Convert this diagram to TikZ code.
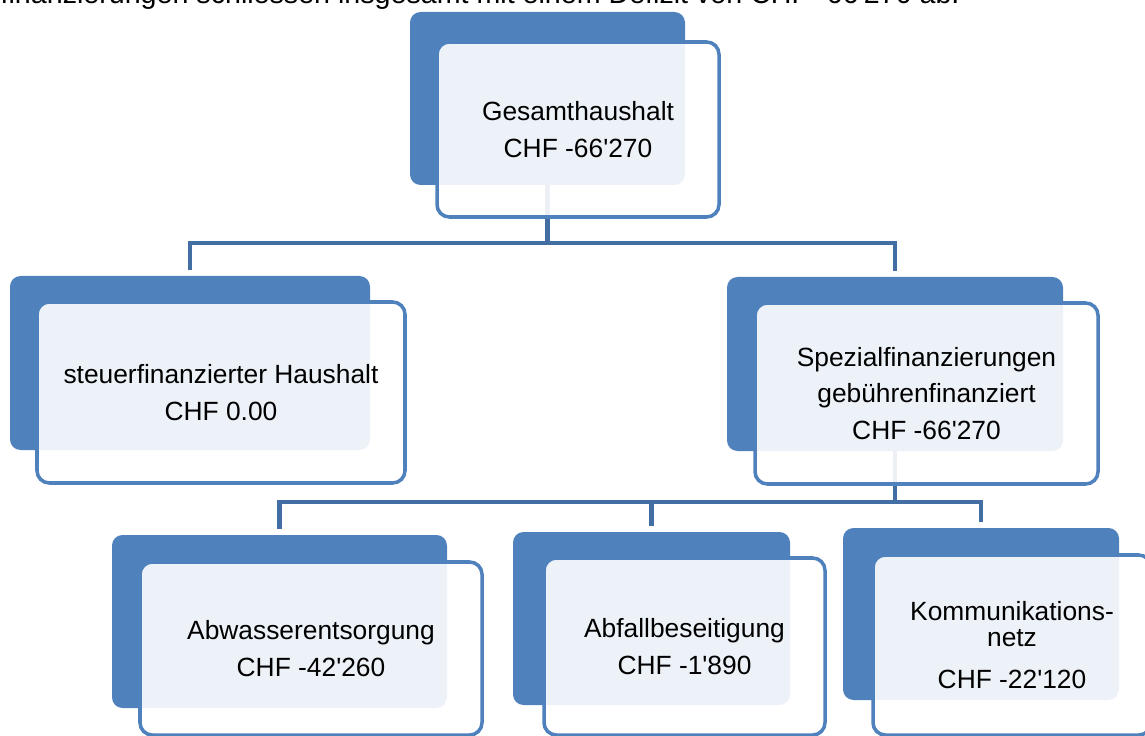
\documentclass[tikz,border=0pt]{standalone}
\usepackage{fontspec}
\setmainfont{Liberation Sans}
\usepackage{xcolor}
\usetikzlibrary{calc}

\definecolor{boxblue}{RGB}{79,129,189}
\definecolor{linkblue}{RGB}{66,110,163}

\tikzset{
  back/.style 2 args={draw=none, fill=boxblue, rounded corners=6pt,
    minimum width=#1*0.02cm, minimum height=#2*0.02cm},
  front/.style 2 args={draw=boxblue, line width=2pt, fill=white, fill opacity=0.9,
    text opacity=1, rounded corners=7pt, align=center,
    font=\fontsize{15}{21}\selectfont,
    minimum width=#1*0.02cm, minimum height=#2*0.02cm},
  link/.style={draw=linkblue, line width=2.3pt, shorten >=0.12cm},
}

\begin{document}
\begin{tikzpicture}[x=0.02cm, y=-0.02cm]

\useasboundingbox (0,0) rectangle (1145,736);
\clip (0,0) rectangle (1145,736);

% text above, cut off by the page
\node[anchor=base east, inner sep=0pt, font=\fontsize{16.3}{21}\selectfont] (intro) at (960,4)
    {Spezialfinanzierungen schliessen insgesamt mit einem Defizit von CHF -66\textquotesingle270 ab.};

% back boxes
\node[back={275}{173}] (topback) at (547.5,98.5) {};
\node[back={360}{174}] (leftback) at (190,363) {};
\node[back={336}{174}] (rightback) at (895,364) {};
\node[back={335}{173}] (abwback) at (279.5,621.5) {};
\node[back={277}{173}] (abfback) at (651.5,618.5) {};
\node[back={276}{172}] (kommback) at (981,614) {};

% connectors
\coordinate (bus1) at ($(topback.south)+(0,58)$);
\coordinate (bus2) at ($(rightback.south)+(0,51)$);
\draw[link] (topback.south) -- (bus1) -| (leftback.north);
\draw[link] (bus1) -| (rightback.north);
\draw[link] (rightback.south) -- (bus2) -| (abwback.north);
\draw[link] (bus2) -| (abfback.north);
\draw[link] (bus2) -| (kommback.north);

% front boxes
\node[front={282}{175}] (top) at (578,129.5)
    {Gesamthaushalt\\CHF -66\textquotesingle270};
\node[front={368}{181}] (left) at (221,392.5)
    {steuerfinanzierter Haushalt\\CHF 0.00};
\node[front={343}{181}] (right) at (926.5,393.5)
    {Spezialfinanzierungen\\gebührenfinanziert\\CHF -66\textquotesingle270};
\node[front={342}{173}] (abw) at (311,648.5)
    {Abwasserentsorgung\\CHF -42\textquotesingle260};
\node[front={281}{177}] (abf) at (684.5,646.5)
    {Abfallbeseitigung\\CHF -1\textquotesingle890};
\node[front={278}{180}] (komm) at (1012,645)
    {Kommunikations-\\[-6pt]netz\\[3pt]CHF -22\textquotesingle120};

\end{tikzpicture}
\end{document}
